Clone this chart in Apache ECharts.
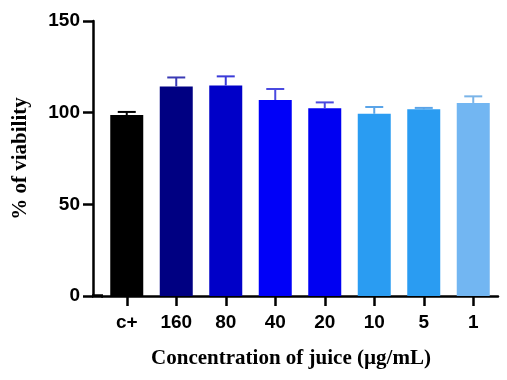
<!DOCTYPE html>
<html>
<head>
<meta charset="utf-8">
<script src="https://cdn.jsdelivr.net/npm/echarts@6/dist/echarts.min.js"></script>
<style>html,body{margin:0;padding:0;background:#fff;}#c{width:507px;height:380px;}</style>
</head>
<body>
<div id="c"></div>
<script>
var categories = ['c+', '160', '80', '40', '20', '10', '5', '1'];
var means = [98.7, 114.3, 114.8, 106.9, 102.4, 99.4, 101.8, 105.3];
var errUpper = [100.4, 119.2, 119.8, 112.9, 105.6, 103.1, 102.6, 108.9];
var barColors = ['#000000', '#000082', '#0000c8', '#0000f8', '#0000f2', '#2a9cf2', '#2a9cf2', '#72b6f2'];
var errColors = ['#000000', '#3a3ab4', '#3a3ad8', '#4a4ae0', '#4a4ae0', '#5aa4e8', '#5aa4e8', '#7ab4e8'];
var yTicks = [0, 50, 100, 150];

var gridLeft = 102, yOffset = 9, axisW = 2.5;

var chart = echarts.init(document.getElementById('c'), null, {renderer: 'canvas'});

var barData = means.map(function (v, i) {
  return {value: v, itemStyle: {color: barColors[i]}};
});
var errData = means.map(function (v, i) { return [i, v, errUpper[i]]; });

var labelFont = {fontFamily: 'Liberation Sans, Arial, sans-serif', fontWeight: 'bold', fontSize: 19, color: '#000'};
var titleFont = {fontFamily: 'Liberation Serif, Times New Roman, serif', fontWeight: 'bold', fontSize: 21, color: '#000'};

chart.setOption({
  animation: false,
  backgroundColor: '#fff',
  grid: {left: gridLeft, right: 9, top: 21, bottom: 84},
  xAxis: {
    type: 'category', data: categories,
    axisLine: {show: true, onZero: false, lineStyle: {color: '#000', width: axisW}},
    axisTick: {show: true, inside: false, length: 10, alignWithLabel: true, lineStyle: {color: '#000', width: axisW}},
    axisLabel: Object.assign({margin: 17, interval: 0}, labelFont)
  },
  yAxis: {
    type: 'value', min: 0, max: 150, interval: 50, offset: yOffset,
    name: '% of viability', nameLocation: 'middle', nameGap: 62,
    nameTextStyle: titleFont,
    axisLine: {show: true, lineStyle: {color: '#000', width: axisW}},
    axisTick: {show: true, length: 10, lineStyle: {color: '#000', width: axisW}},
    axisLabel: Object.assign({margin: 13, formatter: function (v) { return yTicks.indexOf(v) >= 0 ? String(v) : ''; }}, labelFont),
    splitLine: {show: false}
  },
  title: {
    text: 'Concentration of juice (µg/mL)',
    left: 286, top: 343, textAlign: 'center',
    textStyle: titleFont
  },
  series: [
    {
      type: 'bar', data: barData, barWidth: 33
    },
    {
      type: 'custom', data: errData, z: 3,
      renderItem: function (params, api) {
        var i = api.value(0);
        var top = api.coord([i, api.value(2)]);
        var base = api.coord([i, api.value(1)]);
        var hw = 9;
        var col = errColors[params.dataIndex];
        return {
          type: 'group',
          children: [
            {type: 'line', shape: {x1: top[0], y1: base[1], x2: top[0], y2: top[1]}, style: {stroke: col, lineWidth: 2}},
            {type: 'line', shape: {x1: top[0] - hw, y1: top[1], x2: top[0] + hw, y2: top[1]}, style: {stroke: col, lineWidth: 2}}
          ]
        };
      }
    }
  ]
});

// extend the x-axis baseline back to the offset y-axis
var y0 = chart.convertToPixel({yAxisIndex: 0}, 0);
chart.setOption({
  graphic: [{
    type: 'line', z: 10,
    shape: {x1: gridLeft - yOffset - 1, y1: y0, x2: gridLeft + 1, y2: y0},
    style: {stroke: '#000', lineWidth: 3.5}
  }]
});
</script>
</body>
</html>
